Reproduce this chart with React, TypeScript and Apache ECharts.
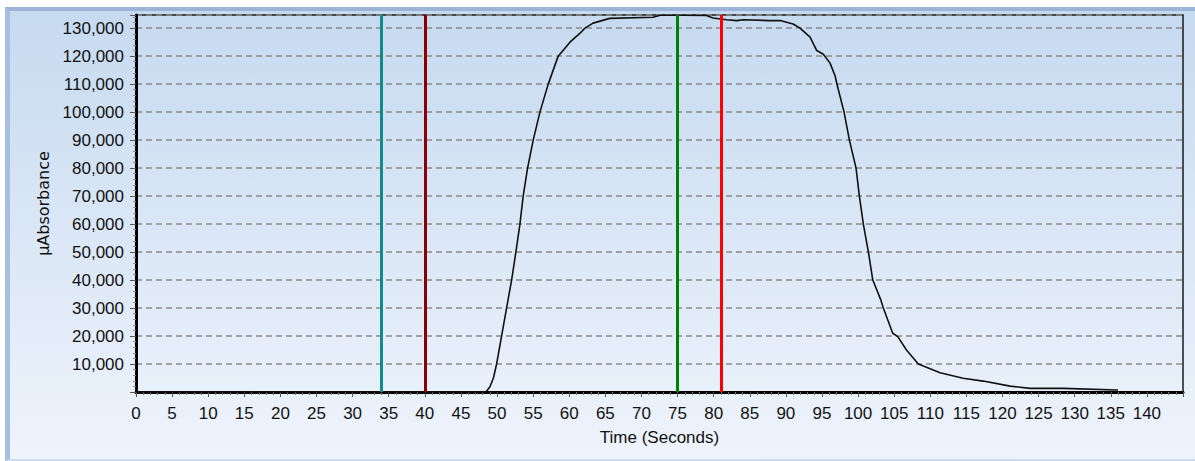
import React, { useEffect, useRef } from "react";
import * as echarts from "echarts";

// Chromatogram trace (time in seconds, µAbsorbance)
const timeSec = [
  0, 48, 48.45, 49.0, 49.5, 49.94, 50.63, 51.32, 52.02, 52.61, 53.17, 53.62, 54.23,
  55.01, 55.94, 57.09, 58.47, 60.1, 61.5, 62.17, 63.3, 65.6, 71.6, 72.6, 75.8, 79.0,
  79.9, 81.8, 83.2, 84.1, 87.8, 89.2, 91.0, 91.96, 93.35, 94.28, 95.19, 96.12, 96.81,
  97.27, 98.06, 98.8, 99.72, 100.18, 100.73, 101.43, 102.04, 103.15, 103.5, 104.8,
  105.5, 106.7, 108.35, 111.36, 114.55, 117.32, 121.06, 123.83, 128.4, 135.85, 136,
];
const absorbance = [
  0, 0, 0, 1800, 5000, 10000, 20000, 30000, 40000, 50000, 60000, 70000, 80000,
  90000, 100000, 110000, 120000, 125000, 128200, 130000, 131800, 133500, 133900, 134600, 134600, 134500,
  133600, 133000, 132700, 133000, 132700, 132700, 131500, 130000, 126800, 122000, 120700, 117500, 113000,
  108000, 100000, 90000, 80000, 70000, 60000, 50000, 40000, 32900, 30000, 21000,
  19800, 15000, 10000, 6900, 4900, 3900, 2100, 1300, 1300, 700, 700,
];

// Vertical marker lines (seconds)
const markerTimes = [34, 40, 75, 81];
const markerColors = ["#0f8b8b", "#8b0000", "#008000", "#ff0000"];

const xMax = 145;
const yMax = 134700;

const FONT = "'Liberation Sans', Arial, sans-serif";

export default function App() {
  const ref = useRef<HTMLDivElement>(null);

  useEffect(() => {
    if (!ref.current) return;
    const chart = echarts.init(ref.current, undefined, { renderer: "svg" });
    const points = timeSec.map((t, i) => [t, absorbance[i]]);
    chart.setOption({
      animation: false,
      grid: {
        left: 136,
        right: 12,
        top: 15,
        bottom: 69,
        show: true,
        borderColor: "#1a1a1a",
        borderWidth: 1.5,
        backgroundColor: "transparent",
      },
      xAxis: {
        type: "value",
        min: 0,
        max: xMax,
        interval: 5,
        name: "Time (Seconds)",
        nameLocation: "middle",
        nameGap: 37,
        nameTextStyle: { fontFamily: FONT, fontSize: 17, color: "#111" },
        axisLine: { show: true, onZero: false, lineStyle: { color: "#000", width: 3 } },
        axisTick: { show: true, length: 5, lineStyle: { color: "#555", width: 1 } },
        minorTick: { show: true, splitNumber: 5, length: 3, lineStyle: { color: "#777", width: 1 } },
        axisLabel: {
          fontFamily: FONT,
          fontSize: 17,
          color: "#111",
          margin: 13,
          showMaxLabel: false,
        },
        splitLine: { show: false },
      },
      yAxis: {
        type: "value",
        min: 0,
        max: yMax,
        interval: 10000,
        name: "µAbsorbance",
        nameLocation: "middle",
        nameGap: 82,
        nameTextStyle: { fontFamily: "'DejaVu Sans', sans-serif", fontSize: 16, color: "#111" },
        axisLine: { show: true, lineStyle: { color: "#000", width: 3 } },
        axisTick: { show: true, length: 6, lineStyle: { color: "#555", width: 1 } },
        minorTick: { show: true, splitNumber: 5, length: 3, lineStyle: { color: "#888", width: 1 } },
        axisLabel: {
          fontFamily: FONT,
          fontSize: 17,
          color: "#111",
          margin: 12,
          showMinLabel: false,
          showMaxLabel: false,
          formatter: (v: number) => (v === 0 ? "" : v.toLocaleString("en-US")),
        },
        splitLine: {
          show: true,
          lineStyle: { color: "#8a8a8a", width: 1.5, type: [6, 4] },
        },
      },
      series: [
        {
          type: "line",
          data: points,
          showSymbol: false,
          symbol: "none",
          lineStyle: { color: "#111", width: 1.6 },
          z: 3,
          markLine: {
            silent: true,
            symbol: "none",
            label: { show: false },
            z: 4,
            data: markerTimes.map((t, i) => ({
              xAxis: t,
              lineStyle: { color: markerColors[i], width: 3, type: "solid" },
            })),
          },
        },
      ],
    });
    return () => chart.dispose();
  }, []);

  return (
    <div
      style={{
        position: "fixed",
        left: 0,
        top: 0,
        width: 1195,
        height: 461,
        background: "#ffffff",
        overflow: "hidden",
      }}
    >
      <div
        style={{
          position: "absolute",
          left: 5,
          top: 7,
          width: 1190,
          height: 454,
          boxSizing: "border-box",
          borderTop: "4px solid #9bb4d7",
          borderLeft: "5px solid #a6bfe0",
          borderBottom: "2px solid #cddcf0",
          background: "linear-gradient(to bottom, #c6daf0 0%, #dbe7f6 50%, #eef4fc 100%)",
        }}
      />
      <div ref={ref} style={{ position: "absolute", left: 0, top: 0, width: 1195, height: 461 }} />
    </div>
  );
}
